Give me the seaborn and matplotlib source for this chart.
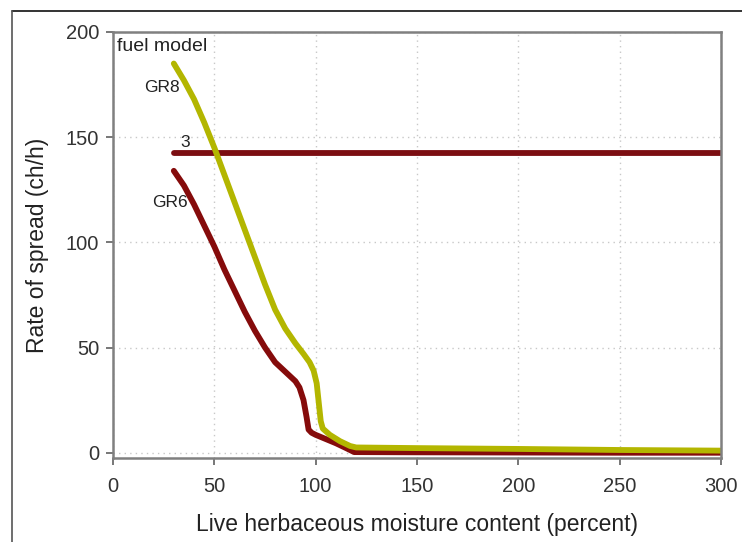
import numpy as np
import pandas as pd
import matplotlib.pyplot as plt
from matplotlib.lines import Line2D
import seaborn as sns

# values
gr8_x = [30, 35, 40, 45, 50, 55, 60, 65, 70, 75, 80, 85, 90, 94, 97, 99, 100.5, 101.5, 102.5, 103.5,
         107, 112, 117, 120, 150, 200, 250, 300]
gr8_y = [185, 177, 168, 157, 145, 132, 119, 106, 93, 80, 68, 59, 52, 47, 43, 39, 33, 24, 15, 11.5,
         8.5, 5.5, 3.2, 2.5, 2.2, 1.8, 1.3, 1.0]
gr6_x = [30, 35, 40, 45, 50, 55, 60, 65, 70, 75, 80, 85, 90, 92, 94, 95.5, 96.5, 98, 100, 105,
         110, 115, 119, 150, 200, 250, 300]
gr6_y = [134, 127, 118, 108, 98, 87, 77, 67, 58, 50, 43, 38.5, 34, 31, 25, 17, 11, 9.5, 8.5, 6.5,
         4.5, 2.2, 0.3, 0.2, 0.1, 0.0, 0.0]
fm3_x = [30, 300]
fm3_y = [142.7, 142.7]

colors = {"GR8": "#b3b600", "GR6": "#850b0b", "3": "#7c0e12"}


def build_frame():
    parts = []
    for name, xs, ys in [("GR8", gr8_x, gr8_y), ("GR6", gr6_x, gr6_y), ("3", fm3_x, fm3_y)]:
        parts.append(pd.DataFrame({"moisture": xs, "ros": ys, "model": name}))
    return pd.concat(parts, ignore_index=True)


def main():
    sns.set_style("white")
    plt.rcParams['font.family'] = ['Liberation Sans', 'DejaVu Sans']

    df = build_frame()
    fig = plt.figure(figsize=(7.42, 5.42), dpi=100)
    ax = fig.add_axes([0.1523, 0.155, 0.8194, 0.786])

    sns.lineplot(data=df, x="moisture", y="ros", hue="model", palette=colors,
                 hue_order=["3", "GR6", "GR8"], linewidth=4.2, legend=False,
                 ax=ax, solid_capstyle="round", solid_joinstyle="round", sort=False)

    ax.set_xlim(0, 300)
    ax.set_ylim(-2.5, 200)
    ax.set_xticks(range(0, 301, 50))
    ax.set_yticks(range(0, 201, 50))
    ax.grid(True, linestyle=(0, (1, 3)), color="#c8c8c8", linewidth=1)
    ax.set_axisbelow(True)
    for s in ax.spines.values():
        s.set_color("#808080")
        s.set_linewidth(1.8)
    ax.tick_params(axis="both", direction="out", length=5, width=1.2, color="#606060",
                   labelsize=14.5, labelcolor="#333333", pad=5, bottom=True, left=True)
    ax.tick_params(axis="x", pad=9)

    ax.set_xlabel("Live herbaceous moisture content (percent)", fontsize=16.5,
                  color="#222222", labelpad=12)
    ax.set_ylabel("Rate of spread (ch/h)", fontsize=16.5, color="#222222", labelpad=12)

    ax.text(2, 193, "fuel model", fontsize=14, color="#222222", va="center", ha="left")
    ax.text(33, 173.5, "GR8", fontsize=12.5, color="#222222", va="center", ha="right")
    ax.text(35.5, 147.5, "3", fontsize=12.5, color="#222222", va="center", ha="center")
    ax.text(37, 118.8, "GR6", fontsize=12.5, color="#222222", va="center", ha="right")

    # outer frame of the original screenshot
    fig.add_artist(Line2D([12 / 742, 1], [1 - 11 / 542] * 2, transform=fig.transFigure,
                          color="#111111", linewidth=1.2))
    fig.add_artist(Line2D([12 / 742] * 2, [0, 1 - 11 / 542], transform=fig.transFigure,
                          color="#555555", linewidth=1.2))

    plt.savefig("out.png", dpi=100)
    plt.close()


if __name__ == '__main__':
    main()
